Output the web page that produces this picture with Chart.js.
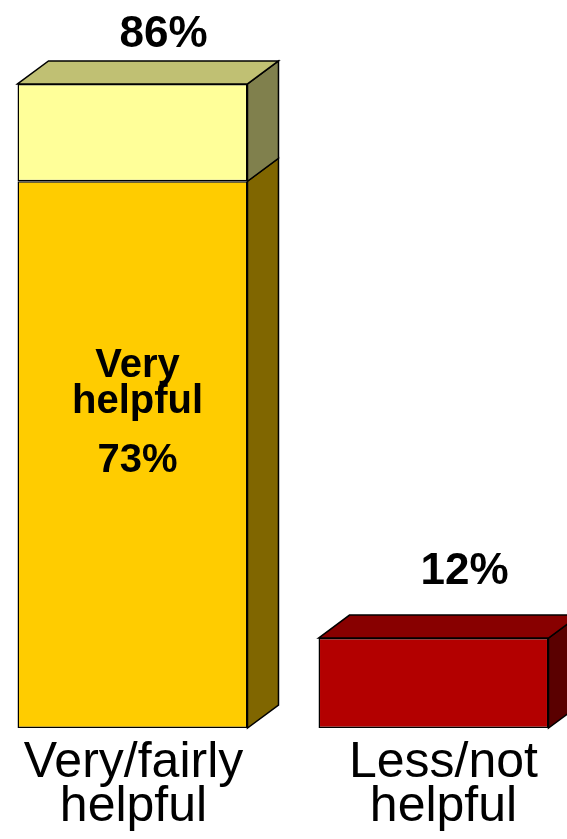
<!DOCTYPE html>
<html>
<head>
<meta charset="utf-8">
<script src="https://cdn.jsdelivr.net/npm/chart.js@4"></script>
<style>
  html, body { margin: 0; padding: 0; background: #fff; overflow: hidden; }
  #wrap { position: absolute; left: -18px; top: 0; width: 602px; height: 839px; }
</style>
</head>
<body>
<div id="wrap"><canvas id="helpChart"></canvas></div>
<script>
// Datos del gráfico
const categories = [['Very/fairly', 'helpful'], ['Less/not', 'helpful']];
const veryHelpful = [73, null];
const fairlyHelpful = [13, null];
const lessHelpful = [null, 12];
const totals = ['86%', '12%'];
const innerLabel = ['Very', 'helpful', '73%'];

// Colores: frente, lado, tapa
const faces = [
  { front: '#FFCC00', side: '#806600', top: '#BFA040' },
  { front: '#FFFF99', side: '#80804D', top: '#C0C073' },
  { front: '#B30000', side: '#5A0000', top: '#880000' }
];
const DX = 31, DY = 23;

// Plugin para dibujar el efecto 3D y los textos
const bars3d = {
  id: 'bars3d',
  afterDatasetsDraw(chart) {
    const ctx = chart.ctx;
    ctx.save();
    ctx.lineWidth = 1.5;
    ctx.strokeStyle = '#000';
    ctx.lineJoin = 'miter';
    const topOf = {};
    chart.data.datasets.forEach((ds, di) => {
      chart.getDatasetMeta(di).data.forEach((bar, i) => {
        if (ds.data[i] == null) return;
        const p = bar.getProps(['x', 'y', 'base', 'width'], true);
        const r = p.x + p.width / 2;
        // cara lateral
        ctx.beginPath();
        ctx.moveTo(r, p.y);
        ctx.lineTo(r + DX, p.y - DY);
        ctx.lineTo(r + DX, p.base - DY);
        ctx.lineTo(r, p.base);
        ctx.closePath();
        ctx.fillStyle = faces[di].side;
        ctx.fill();
        ctx.stroke();
        if (!topOf[i] || p.y < topOf[i].y) topOf[i] = { x: p.x, y: p.y, w: p.width, di: di };
      });
    });
    // tapas y totales
    Object.keys(topOf).forEach(i => {
      const t = topOf[i];
      const l = t.x - t.w / 2, r = t.x + t.w / 2;
      ctx.beginPath();
      ctx.moveTo(l, t.y);
      ctx.lineTo(l + DX, t.y - DY);
      ctx.lineTo(r + DX, t.y - DY);
      ctx.lineTo(r, t.y);
      ctx.closePath();
      ctx.fillStyle = faces[t.di].top;
      ctx.fill();
      ctx.stroke();
      ctx.fillStyle = '#000';
      ctx.font = 'bold 44px "Liberation Sans", Arial, sans-serif';
      ctx.textAlign = 'center';
      ctx.textBaseline = 'alphabetic';
      ctx.fillText(totals[i], t.x + DX, Math.max(t.y - DY - 31, 47));
    });
    // etiqueta interior del segmento "Very helpful"
    const seg = chart.getDatasetMeta(0).data[0].getProps(['x', 'y', 'base'], true);
    const mid = (seg.y + seg.base) / 2;
    ctx.font = 'bold 40px "Liberation Sans", Arial, sans-serif';
    ctx.fillText(innerLabel[0], seg.x + 5, mid - 78);
    ctx.fillText(innerLabel[1], seg.x + 5, mid - 42);
    ctx.fillText(innerLabel[2], seg.x + 5, mid + 17);
    // etiquetas de categoría
    const nudge = [1, 10];
    ctx.font = '50px "Liberation Sans", Arial, sans-serif';
    const xs = chart.scales.x;
    categories.forEach((lines, i) => {
      const x = xs.getPixelForValue(i) + nudge[i];
      lines.forEach((s, k) => ctx.fillText(s, x, chart.chartArea.bottom + 49 + k * 44));
    });
    ctx.restore();
  }
};

const ctx = document.getElementById('helpChart').getContext('2d');
const chart = new Chart(ctx, {
  type: 'bar',
  data: {
    labels: categories,
    datasets: [
      { label: 'Very helpful', data: veryHelpful, backgroundColor: faces[0].front },
      { label: 'Fairly helpful', data: fairlyHelpful, backgroundColor: faces[1].front },
      { label: 'Less/not helpful', data: lessHelpful, backgroundColor: faces[2].front }
    ]
  },
  options: {
    responsive: true,
    maintainAspectRatio: false,
    animation: false,
    layout: { padding: { top: 0, bottom: 111, left: 0, right: 0 } },
    datasets: {
      bar: {
        borderColor: '#000',
        borderWidth: 1.5,
        borderSkipped: false,
        barPercentage: 0.764,
        categoryPercentage: 1
      }
    },
    scales: {
      x: { stacked: true, display: false },
      y: { stacked: true, display: false, min: 0, max: 97.2 }
    },
    plugins: {
      legend: { display: false },
      tooltip: { enabled: false }
    }
  },
  plugins: [bars3d]
});
</script>
</body>
</html>
